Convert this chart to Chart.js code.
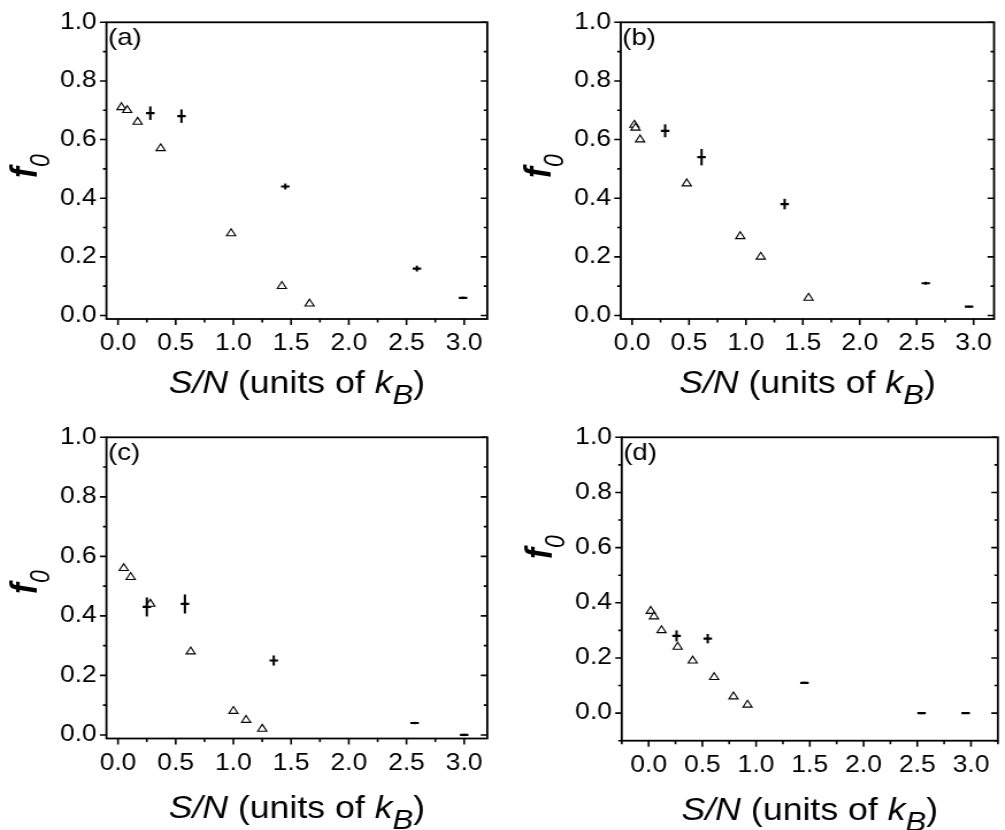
<!DOCTYPE html>
<html>
<head>
<meta charset="utf-8">
<title>f0 against S/N</title>
<script src="https://cdn.jsdelivr.net/npm/chart.js@4/dist/chart.umd.min.js"></script>
<style>
  body { margin: 0; background: #fff; }
  #figure { position: relative; width: 1005px; height: 830px; overflow: hidden; background: #fff; }
  #figure canvas { position: absolute; }
</style>
</head>
<body>
<div id="figure">
  <canvas id="panelA"></canvas>
  <canvas id="panelB"></canvas>
  <canvas id="panelC"></canvas>
  <canvas id="panelD"></canvas>
</div>
<script>
'use strict';

// ************************** DATA ****************************************** //
// x = S/N (units of k_B), y = f0
// triangles = open markers, crosses = points with vertical error bars

let aTriangleX = [0.03, 0.08, 0.17, 0.37, 0.98, 1.42, 1.66];
let aTriangleY = [0.71, 0.70, 0.66, 0.57, 0.28, 0.10, 0.04];
let aCrossX = [0.28, 0.55, 1.45, 2.59, 2.99];
let aCrossY = [0.69, 0.68, 0.44, 0.16, 0.06];
let aCrossErr = [0.023, 0.023, 0.010, 0.010, 0.004];

let bTriangleX = [0.02, 0.03, 0.07, 0.48, 0.95, 1.13, 1.55];
let bTriangleY = [0.65, 0.64, 0.60, 0.45, 0.27, 0.20, 0.06];
let bCrossX = [0.29, 0.61, 1.34, 2.58, 2.96];
let bCrossY = [0.63, 0.54, 0.38, 0.11, 0.03];
let bCrossErr = [0.022, 0.028, 0.018, 0.005, 0.003];

let cTriangleX = [0.05, 0.11, 0.28, 0.63, 1.00, 1.11, 1.25];
let cTriangleY = [0.56, 0.53, 0.44, 0.28, 0.08, 0.05, 0.02];
let cCrossX = [0.25, 0.58, 1.35, 2.57, 3.00];
let cCrossY = [0.43, 0.44, 0.25, 0.04, 0.00];
let cCrossErr = [0.032, 0.032, 0.017, 0.004, 0.004];

let dTriangleX = [0.02, 0.05, 0.12, 0.27, 0.41, 0.61, 0.79, 0.92];
let dTriangleY = [0.37, 0.35, 0.30, 0.24, 0.19, 0.13, 0.06, 0.03];
let dCrossX = [0.26, 0.55, 1.45, 2.54, 2.95];
let dCrossY = [0.28, 0.27, 0.11, 0.00, 0.00];
let dCrossErr = [0.020, 0.017, 0.004, 0.004, 0.000];

let xTickValues = [0, 0.5, 1, 1.5, 2, 2.5, 3];
let yTickValues = [0, 0.2, 0.4, 0.6, 0.8, 1];

// ************************** LAYOUT **************************************** //
// the original figure is drawn a little wider than tall, so every canvas is
// stretched sideways by CSS
const STRETCH = 1.15;
const FONT = '"Liberation Sans", Arial, sans-serif';

let panels = [
  {
    id: 'panelA', label: '(a)', left: 0, top: 0, width: 500, height: 415,
    area: { left: 106.5, right: 487.5, top: 14, bottom: 319 },
    xRange: [-0.1, 3.2], yRange: [-0.012, 1], yTitleAt: 166, xTitleDrop: 74,
    triX: aTriangleX, triY: aTriangleY, crossX: aCrossX, crossY: aCrossY, crossErr: aCrossErr
  },
  {
    id: 'panelB', label: '(b)', left: 500, top: 0, width: 505, height: 415,
    area: { left: 120.7, right: 502.5, top: 14, bottom: 319 },
    xRange: [-0.1, 3.18], yRange: [-0.012, 1], yTitleAt: 166, xTitleDrop: 74,
    triX: bTriangleX, triY: bTriangleY, crossX: bCrossX, crossY: bCrossY, crossErr: bCrossErr
  },
  {
    id: 'panelC', label: '(c)', left: 0, top: 415, width: 500, height: 415,
    area: { left: 106.5, right: 487.5, top: 19, bottom: 323.5 },
    xRange: [-0.1, 3.2], yRange: [-0.012, 1], yTitleAt: 167, xTitleDrop: 79,
    triX: cTriangleX, triY: cTriangleY, crossX: cCrossX, crossY: cCrossY, crossErr: cCrossErr
  },
  {
    id: 'panelD', label: '(d)', left: 500, top: 415, width: 505, height: 415,
    area: { left: 121.7, right: 503, top: 19, bottom: 325.7 },
    xRange: [-0.25, 3.25], yRange: [-0.1, 1], yTitleAt: 132, xTitleDrop: 79,
    triX: dTriangleX, triY: dTriangleY, crossX: dCrossX, crossY: dCrossY, crossErr: dCrossErr
  }
];

// ************************** HELPERS *************************************** //
function makePoints(xs, ys) {
  let points = [];
  for (let i = 0; i < xs.length; i++) {
    points.push({ x: xs[i], y: ys[i] });
  }
  return points;
}

// draws pieces of text with their own fonts one after another, centred on x
function drawRichText(ctx, parts, x, y) {
  let total = 0;
  for (let i = 0; i < parts.length; i++) {
    ctx.font = parts[i].font;
    parts[i].w = ctx.measureText(parts[i].text).width;
    total += parts[i].w;
  }
  let cursor = x - total / 2;
  for (let i = 0; i < parts.length; i++) {
    ctx.font = parts[i].font;
    ctx.fillText(parts[i].text, cursor, y + (parts[i].dy || 0));
    cursor += parts[i].w;
  }
}

function minorValues(min, max, step) {
  let values = [];
  let first = Math.ceil(min / step - 1e-6);
  let last = Math.floor(max / step + 1e-6);
  for (let k = first; k <= last; k++) {
    if (k % 2 !== 0) values.push(k * step);
  }
  return values;
}

// ************************** FRAME PLUGIN ********************************** //
function makeFramePlugin(panel) {
  return {
    id: 'frame' + panel.label,
    afterDraw(chart) {
      let ctx = chart.ctx;
      let area = chart.chartArea;
      let xScale = chart.scales.x;
      let yScale = chart.scales.y;
      let majorY = 6.5 / STRETCH;
      let minorY = 3.5 / STRETCH;

      ctx.save();
      ctx.strokeStyle = '#000';
      ctx.fillStyle = '#000';

      // error bars on the cross points
      ctx.lineWidth = 2;
      for (let i = 0; i < panel.crossX.length; i++) {
        if (panel.crossErr[i] <= 0) continue;
        let px = xScale.getPixelForValue(panel.crossX[i]);
        ctx.beginPath();
        ctx.moveTo(px, yScale.getPixelForValue(panel.crossY[i] + panel.crossErr[i]));
        ctx.lineTo(px, yScale.getPixelForValue(panel.crossY[i] - panel.crossErr[i]));
        ctx.stroke();
      }

      // box
      ctx.lineWidth = 1.8;
      ctx.strokeRect(area.left, area.top, area.right - area.left, area.bottom - area.top);

      // y ticks: out on the left, in on the right
      ctx.lineWidth = 1.6;
      ctx.beginPath();
      for (let i = 0; i < yTickValues.length; i++) {
        let py = yScale.getPixelForValue(yTickValues[i]);
        ctx.moveTo(area.left - majorY, py);
        ctx.lineTo(area.left, py);
        ctx.moveTo(area.right - majorY, py);
        ctx.lineTo(area.right, py);
      }
      let yMinor = minorValues(panel.yRange[0], 1, 0.1);
      for (let i = 0; i < yMinor.length; i++) {
        let py = yScale.getPixelForValue(yMinor[i]);
        ctx.moveTo(area.left - minorY, py);
        ctx.lineTo(area.left, py);
        ctx.moveTo(area.right - minorY, py);
        ctx.lineTo(area.right, py);
      }
      ctx.stroke();

      // x ticks, pointing down
      ctx.beginPath();
      for (let i = 0; i < xTickValues.length; i++) {
        let px = xScale.getPixelForValue(xTickValues[i]);
        ctx.moveTo(px, area.bottom);
        ctx.lineTo(px, area.bottom + 6);
      }
      let xMinor = minorValues(panel.xRange[0], panel.xRange[1], 0.25);
      for (let i = 0; i < xMinor.length; i++) {
        let px = xScale.getPixelForValue(xMinor[i]);
        ctx.moveTo(px, area.bottom);
        ctx.lineTo(px, area.bottom + 3.5);
      }
      ctx.stroke();

      // panel label
      ctx.textBaseline = 'alphabetic';
      ctx.textAlign = 'left';
      ctx.font = '24px ' + FONT;
      ctx.fillText(panel.label, area.left + 1.3, area.top + 23);

      // x title
      drawRichText(ctx, [
        { text: 'S/N', font: 'italic 31px ' + FONT },
        { text: ' (units of ', font: '31px ' + FONT },
        { text: 'k', font: 'italic 31px ' + FONT },
        { text: 'B', font: 'italic 27px ' + FONT, dy: 11 },
        { text: ')', font: '31px ' + FONT }
      ], (area.left + area.right) / 2, area.bottom + panel.xTitleDrop);

      // y title, rotated
      ctx.translate(area.left - 61, panel.yTitleAt);
      ctx.rotate(-Math.PI / 2);
      drawRichText(ctx, [
        { text: 'f', font: 'italic bold 33px ' + FONT },
        { text: '0', font: 'italic 23px ' + FONT, dy: 11 }
      ], 0, 0);

      ctx.restore();
    }
  };
}

// ************************** CHARTS **************************************** //
function renderPanel(panel) {
  let canvas = document.getElementById(panel.id);
  let w = Math.round(panel.width / STRETCH);
  canvas.width = w;
  canvas.height = panel.height;
  canvas.style.left = panel.left + 'px';
  canvas.style.top = panel.top + 'px';
  canvas.style.width = (w * STRETCH) + 'px';
  canvas.style.height = panel.height + 'px';

  let areaLeft = panel.area.left / STRETCH;
  let areaRight = panel.area.right / STRETCH;
  let xAxisHeight = panel.height - panel.area.bottom;

  let chartObj = {
    type: 'scatter',
    data: {
      datasets: [{
        label: 'triangles',
        data: makePoints(panel.triX, panel.triY),
        pointStyle: 'triangle',
        pointRadius: 4.6,
        pointBorderWidth: 1.1,
        pointBorderColor: '#000',
        pointBackgroundColor: '#fff'
      },
      {
        label: 'crosses',
        data: makePoints(panel.crossX, panel.crossY),
        pointStyle: 'line',
        pointRadius: 3.7,
        pointBorderWidth: 2.2,
        pointBorderColor: '#000',
        pointBackgroundColor: '#000'
      }]
    },
    options: {
      responsive: false,
      animation: false,
      events: [],
      layout: {
        padding: { left: 0, top: panel.area.top, right: w - areaRight, bottom: 0 }
      },
      plugins: {
        legend: { display: false },
        tooltip: { enabled: false }
      },
      scales: {
        x: {
          type: 'linear',
          min: panel.xRange[0],
          max: panel.xRange[1],
          afterBuildTicks: axis => { axis.ticks = xTickValues.map(v => ({ value: v })); },
          afterFit: axis => { axis.height = xAxisHeight; },
          grid: { display: false, drawTicks: false },
          border: { display: false },
          ticks: {
            color: '#000',
            font: { family: FONT, size: 23 },
            padding: 11,
            maxRotation: 0,
            autoSkip: false,
            callback: v => v.toFixed(1)
          }
        },
        y: {
          type: 'linear',
          min: panel.yRange[0],
          max: panel.yRange[1],
          afterBuildTicks: axis => { axis.ticks = yTickValues.map(v => ({ value: v })); },
          afterFit: axis => { axis.width = areaLeft; },
          grid: { display: false, drawTicks: false },
          border: { display: false },
          ticks: {
            color: '#000',
            font: { family: FONT, size: 23 },
            padding: 8.5,
            autoSkip: false,
            callback: v => v.toFixed(1)
          }
        }
      }
    },
    plugins: [makeFramePlugin(panel)]
  };

  new Chart(canvas, chartObj);
}

for (let i = 0; i < panels.length; i++) {
  renderPanel(panels[i]);
}
</script>
</body>
</html>
